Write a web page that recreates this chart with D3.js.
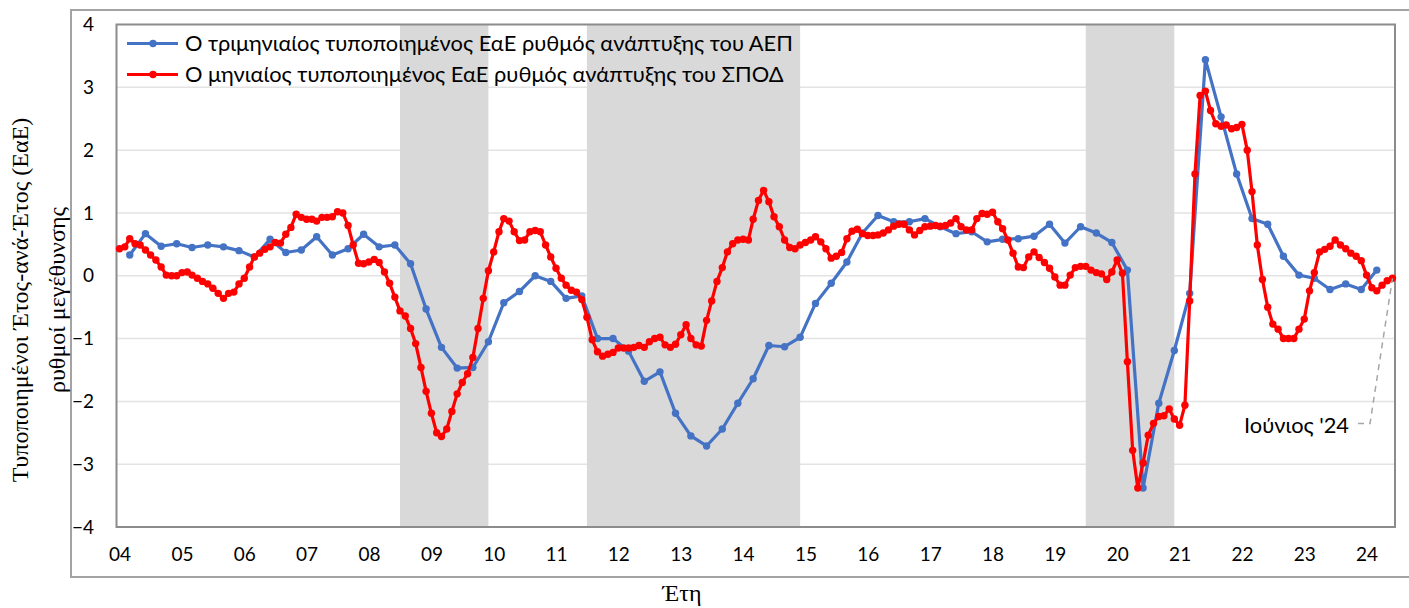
<!DOCTYPE html>
<html><head><meta charset="utf-8">
<script src="https://cdn.jsdelivr.net/npm/d3@7"></script>
<style>body{margin:0;background:#fff;overflow:hidden} svg{display:block}</style>
</head><body>
<svg id="chart" width="1409" height="608"></svg>
<script>
// ---------------- DATA ----------------
const spodStart = "2004-01";   // monthly series (ΣΠΟΔ), Jan 2004 – Jun 2024
const gdpStart = "2004-03";    // quarterly series (ΑΕΠ), plotted at quarter-end month
const spodValues = [
  0.43,0.46,0.59,0.51,0.49,0.41,0.33,0.25,0.14,0.01,0.00,0.00,
  0.05,0.06,0.01,-0.04,-0.09,-0.13,-0.20,-0.28,-0.36,-0.28,-0.26,-0.13,
  -0.04,0.14,0.30,0.36,0.42,0.46,0.53,0.52,0.66,0.77,0.98,0.93,
  0.90,0.90,0.87,0.93,0.93,0.94,1.02,1.00,0.80,0.49,0.20,0.19,
  0.22,0.26,0.21,0.06,-0.12,-0.34,-0.56,-0.64,-0.84,-1.08,-1.46,-1.84,
  -2.19,-2.50,-2.56,-2.44,-2.16,-1.88,-1.70,-1.56,-1.30,-0.84,-0.36,0.08,
  0.38,0.70,0.91,0.87,0.70,0.56,0.57,0.70,0.72,0.70,0.49,0.30,
  0.12,-0.04,-0.15,-0.23,-0.26,-0.38,-0.66,-1.02,-1.21,-1.28,-1.25,-1.22,
  -1.15,-1.15,-1.15,-1.14,-1.11,-1.14,-1.05,-1.00,-0.98,-1.10,-1.14,-1.09,
  -0.94,-0.78,-1.00,-1.10,-1.12,-0.71,-0.40,-0.09,0.13,0.38,0.51,0.57,
  0.58,0.57,0.90,1.20,1.36,1.18,0.94,0.78,0.57,0.45,0.43,0.49,
  0.53,0.57,0.62,0.54,0.43,0.28,0.31,0.37,0.59,0.71,0.74,0.67,
  0.64,0.64,0.65,0.68,0.73,0.79,0.82,0.82,0.73,0.65,0.72,0.78,
  0.79,0.80,0.79,0.80,0.84,0.91,0.78,0.73,0.73,0.91,0.99,0.98,
  1.01,0.86,0.75,0.57,0.36,0.14,0.13,0.30,0.38,0.29,0.21,0.12,
  -0.02,-0.15,-0.15,0.01,0.13,0.15,0.15,0.09,0.05,0.03,-0.06,0.06,
  0.25,0.04,-1.37,-2.78,-3.38,-2.98,-2.54,-2.35,-2.24,-2.23,-2.12,-2.28,
  -2.38,-2.06,-0.40,1.62,2.87,2.94,2.63,2.42,2.38,2.40,2.34,2.36,
  2.41,2.00,1.34,0.49,-0.06,-0.50,-0.77,-0.85,-1.00,-1.00,-1.00,-0.85,
  -0.69,-0.24,0.05,0.38,0.42,0.47,0.57,0.49,0.43,0.36,0.31,0.24,
  0.01,-0.19,-0.24,-0.15,-0.08,-0.04
];
const gdpValues = [
  0.33,0.67,0.47,0.51,0.45,0.49,0.46,0.40,0.30,0.58,0.37,0.41,
  0.62,0.33,0.43,0.66,0.46,0.49,0.19,-0.53,-1.14,-1.47,-1.46,-1.05,
  -0.43,-0.25,0.00,-0.09,-0.36,-0.32,-1.00,-1.00,-1.20,-1.68,-1.53,-2.19,
  -2.55,-2.71,-2.44,-2.03,-1.64,-1.11,-1.13,-0.98,-0.44,-0.12,0.22,0.68,
  0.96,0.86,0.86,0.91,0.78,0.67,0.70,0.54,0.58,0.59,0.63,0.82,
  0.52,0.78,0.68,0.53,0.09,-3.38,-2.03,-1.19,-0.28,3.44,2.53,1.62,
  0.91,0.82,0.31,0.01,-0.04,-0.22,-0.13,-0.22,0.09
];
const shadedPeriods = [["2008-07","2009-12"],["2011-07","2014-12"],["2019-07","2020-12"]];
const yTickValues = [-4,-3,-2,-1,0,1,2,3,4];
const xTickYears = d3.range(2004, 2025);
const legendLabels = [
  "Ο τριμηνιαίος τυποποιημένος ΕαΕ ρυθμός ανάπτυξης του ΑΕΠ",
  "Ο μηνιαίος τυποποιημένος ΕαΕ ρυθμός ανάπτυξης του ΣΠΟΔ"
];
const yTitleLines = ["Τυποποιημένοι Έτος-ανά-Έτος (ΕαΕ)", "ρυθμοί μεγέθυνσης"];
const xTitle = "Έτη";
const annotationText = "Ιούνιος '24";

// ---------------- CHART ----------------
const parseM = d3.timeParse("%Y-%m");
const spod = spodValues.map((v,i)=>({date:d3.timeMonth.offset(parseM(spodStart), i), value:v}));
const gdp = gdpValues.map((v,i)=>({date:d3.timeMonth.offset(parseM(gdpStart), 3*i), value:v}));
const seriesColors = {gdp:"#4472C4", spod:"#FF0000"};
const markerR = 3.7, lineW = 3.2;

const svg = d3.select("#chart");
const plot = {left:116.5, right:1395, top:24.5, bottom:527};

const x = d3.scaleTime()
  .domain([parseM(spodStart), spod[spod.length-1].date])
  .range([119.5, 1392.5]);
const y = d3.scaleLinear().domain([-4,4]).range([plot.bottom, plot.top]);

// outer frame
svg.append("rect").attr("x",71).attr("y",10).attr("width",1409).attr("height",567)
  .attr("fill","#fff").attr("stroke","#a3a3a3").attr("stroke-width",2);

// gridlines
svg.append("g").selectAll("line").data(yTickValues.filter(d=>d>-4 && d<4)).join("line")
  .attr("x1",plot.left).attr("x2",plot.right)
  .attr("y1",d=>y(d)).attr("y2",d=>y(d))
  .attr("stroke","#e3e3e3").attr("stroke-width",1.5);

// shaded periods
svg.append("g").selectAll("rect").data(shadedPeriods).join("rect")
  .attr("x",d=>x(parseM(d[0])))
  .attr("width",d=>x(parseM(d[1]))-x(parseM(d[0])))
  .attr("y",plot.top).attr("height",plot.bottom-plot.top)
  .attr("fill","#D9D9D9");

// plot border
svg.append("rect").attr("x",plot.left).attr("y",plot.top)
  .attr("width",plot.right-plot.left).attr("height",plot.bottom-plot.top)
  .attr("fill","none").attr("stroke","#8c8c8c").attr("stroke-width",2);

// y axis labels
const yAxis = d3.axisLeft(y).tickValues(yTickValues).tickSize(0).tickPadding(0).tickFormat(d3.format("d"));
const gy = svg.append("g").attr("transform","translate(94,0)").call(yAxis);
gy.select(".domain").remove();
gy.selectAll("text").attr("font-family","Lato, 'Open Sans', sans-serif").attr("font-size",19).attr("fill","#000");

// x axis labels
const xAxis = d3.axisBottom(x).tickValues(xTickYears.map(yr=>new Date(yr,0,1)))
  .tickSize(0).tickPadding(0).tickFormat(d3.timeFormat("%y"));
const gx = svg.append("g").attr("transform","translate(0,547)").call(xAxis);
gx.select(".domain").remove();
gx.selectAll("text").attr("font-family","Lato, 'Open Sans', sans-serif").attr("font-size",19).attr("fill","#000");

// lines
const line = d3.line().x(d=>x(d.date)).y(d=>y(d.value));
function drawSeries(data, color){
  const g = svg.append("g");
  g.append("path").datum(data).attr("d",line).attr("fill","none")
    .attr("stroke",color).attr("stroke-width",lineW).attr("stroke-linejoin","round");
  g.selectAll("circle").data(data).join("circle")
    .attr("cx",d=>x(d.date)).attr("cy",d=>y(d.value)).attr("r",markerR).attr("fill",color);
}
drawSeries(gdp, seriesColors.gdp);
drawSeries(spod, seriesColors.spod);

// legend
const legend = svg.append("g");
[["gdp",43.5],["spod",74.5]].forEach(([k,cy],i)=>{
  legend.append("line").attr("x1",127).attr("x2",178).attr("y1",cy).attr("y2",cy)
    .attr("stroke",seriesColors[k]).attr("stroke-width",lineW);
  legend.append("circle").attr("cx",153).attr("cy",cy).attr("r",markerR).attr("fill",seriesColors[k]);
  legend.append("text").attr("x",185).attr("y",cy).attr("dy","0.36em")
    .attr("font-family","Lato, 'Open Sans', sans-serif").attr("font-size",19)
    .attr("fill","#000").text(legendLabels[i]);
});
// fit legend text size to the reference width
const lt = legend.select("text").node();
const lw = lt.getComputedTextLength();
const legendSize = 19*608/lw;
legend.selectAll("text").attr("font-size",legendSize);

// annotation
const last = spod[spod.length-1];
svg.append("path")
  .attr("d",`M1358,423.5 H1370 L${x(last.date)},${y(last.value)}`)
  .attr("fill","none").attr("stroke","#a6a6a6").attr("stroke-width",1.5).attr("stroke-dasharray","6,5");
svg.append("text").attr("x",1349).attr("y",425.5).attr("dy","0.36em").attr("text-anchor","end")
  .attr("font-family","Lato, 'Open Sans', sans-serif").attr("font-size",legendSize).attr("fill","#000")
  .text(annotationText);

// axis titles
const serif = "'Liberation Serif', 'DejaVu Serif', serif";
const t1 = svg.append("text").attr("transform","translate(28,300) rotate(-90)").attr("text-anchor","middle")
  .attr("font-family",serif).attr("font-size",22).attr("fill","#000").text(yTitleLines[0]);
const s = 22*365/t1.node().getComputedTextLength();
t1.attr("font-size",s);
svg.append("text").attr("transform","translate(65,300) rotate(-90)").attr("text-anchor","middle")
  .attr("font-family",serif).attr("font-size",s).attr("fill","#000").text(yTitleLines[1]);
svg.append("text").attr("x",682).attr("y",601).attr("text-anchor","middle")
  .attr("font-family",serif).attr("font-size",s).attr("fill","#000").text(xTitle);
</script>
</body></html>
